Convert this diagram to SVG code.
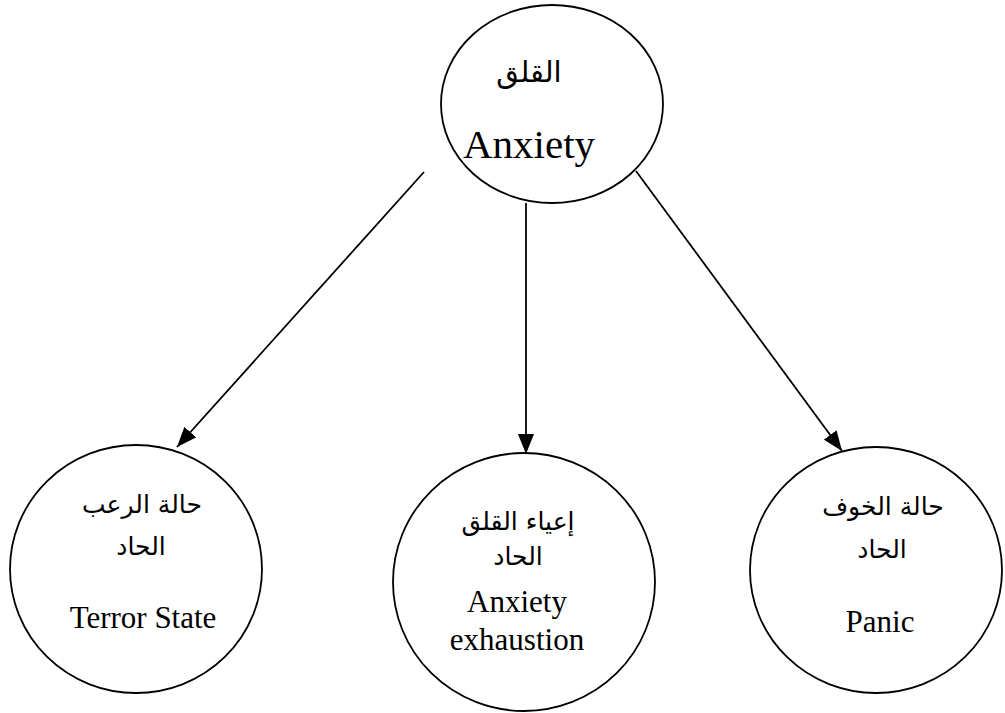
<svg xmlns="http://www.w3.org/2000/svg" width="1005" height="713" viewBox="0 0 1005 713">
<style>
.node{fill:#fff;stroke:#000;stroke-width:1.8}
.en{font-family:"Liberation Serif","Times New Roman",serif;fill:#000;text-anchor:middle}
.ar{font-family:"DejaVu Sans","Noto Sans",sans-serif;fill:#000;text-anchor:middle}
.edge{stroke:#000;stroke-width:1.8;fill:none}
</style>
<defs>
<marker id="ah" viewBox="0 0 20 16" refX="20" refY="8" markerWidth="20" markerHeight="16" markerUnits="userSpaceOnUse" orient="auto">
<path d="M0,0 L20,8 L0,16 z" fill="#000"/>
</marker>
</defs>
<rect width="1005" height="713" fill="#fff"/>
<g id="connectors">
<line class="edge" x1="424" y1="172" x2="177" y2="447" marker-end="url(#ah)"/>
<line class="edge" x1="526" y1="203" x2="526" y2="454" marker-end="url(#ah)"/>
<line class="edge" x1="636" y1="171" x2="842" y2="451" marker-end="url(#ah)"/>
</g>
<g id="anxiety">
<ellipse class="node" cx="552" cy="104" rx="111" ry="99"/>
<text class="ar" x="529" y="82" font-size="29">القلق</text>
<text class="en" x="529" y="158" font-size="41">Anxiety</text>
</g>
<g id="terror">
<ellipse class="node" cx="136" cy="569" rx="126" ry="124"/>
<text class="ar" x="142" y="513" font-size="25">حالة الرعب</text>
<text class="ar" x="141" y="555" font-size="25">الحاد</text>
<text class="en" x="143" y="628" font-size="31">Terror State</text>
</g>
<g id="exhaustion">
<ellipse class="node" cx="524" cy="582" rx="131" ry="129"/>
<text class="ar" x="518" y="530" font-size="25">إعياء القلق</text>
<text class="ar" x="518" y="565" font-size="25">الحاد</text>
<text class="en" x="517" y="612" font-size="31">Anxiety</text>
<text class="en" x="517" y="650" font-size="31">exhaustion</text>
</g>
<g id="panic">
<ellipse class="node" cx="876" cy="570" rx="126" ry="123"/>
<text class="ar" x="883" y="515" font-size="25">حالة الخوف</text>
<text class="ar" x="882" y="558" font-size="25">الحاد</text>
<text class="en" x="880" y="632" font-size="31">Panic</text>
</g>
</svg>
